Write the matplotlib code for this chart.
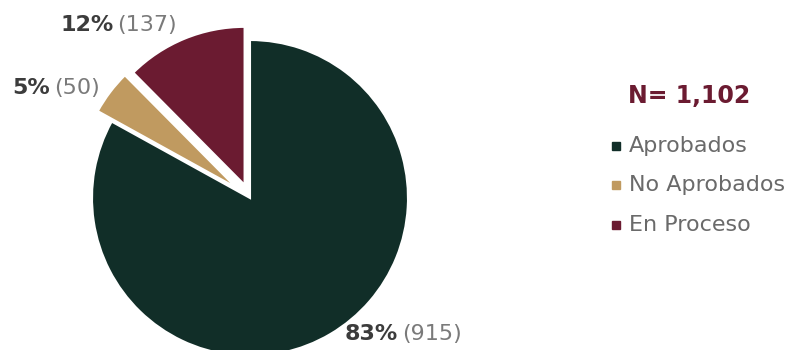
import matplotlib
matplotlib.use("Agg")
import matplotlib.pyplot as plt
from matplotlib.lines import Line2D

categories = ["Aprobados", "No Aprobados", "En Proceso"]
counts = [915, 50, 137]
colors = ["#112e28", "#c09a60", "#6b1b31"]
explode = [0, 0.11, 0.09]

W, H = 799, 350
fig = plt.figure(figsize=(W / 100, H / 100), dpi=100)

# pie centred at (250, 198) px from top-left, radius 158 px
cx, cy, r = 250, 198, 158
lim = 1.6
ax = fig.add_axes([(cx - r * lim) / W, (H - cy - r * lim) / H, 2 * r * lim / W, 2 * r * lim / H])
ax.pie(counts, colors=colors, explode=explode, startangle=90, counterclock=False,
       wedgeprops=dict(linewidth=1.5, edgecolor="white"))
ax.set_xlim(-lim, lim)
ax.set_ylim(-lim, lim)
ax.set_aspect("equal")
ax.axis("off")

total = sum(counts)
bold_c, reg_c = "#3c3c3c", "#7a7a7a"
font = "DejaVu Sans"

# label anchors: left edge and baseline, px from top-left
label_pos = [(345, 340), (12, 94), (60, 31)]
for n, (x, y) in zip(counts, label_pos):
    t1 = fig.text(x / W, 1 - y / H, f"{round(100 * n / total)}%", fontsize=16,
                  fontweight="bold", color=bold_c, family=font, va="baseline")
    ax.annotate(f"({n})", xy=(1, 0), xycoords=t1, xytext=(3, 0),
                textcoords="offset points", fontsize=16, color=reg_c,
                family=font, va="bottom", ha="left", annotation_clip=False)

fig.text(628 / W, 1 - 103 / H, f"N= {total:,}", fontsize=17, fontweight="bold",
         color="#6b1b31", family=font, va="baseline")

legend_y = [152, 191, 231]
for name, col, y in zip(categories, colors, legend_y):
    fig.add_artist(Line2D([616 / W], [1 - (y - 6) / H], marker="s", markersize=6,
                          color=col, linestyle="none"))
    fig.text(629 / W, 1 - y / H, name, fontsize=16, color="#6a6a6a",
             family=font, va="baseline")

fig.savefig("out.png", dpi=100, facecolor="white")
